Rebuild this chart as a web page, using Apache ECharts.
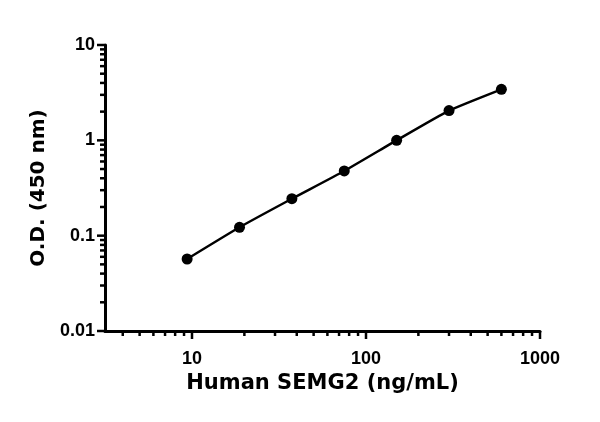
<!DOCTYPE html>
<html>
<head>
<meta charset="utf-8">
<script src="https://cdn.jsdelivr.net/npm/echarts@6/dist/echarts.min.js"></script>
<style>
  html, body { margin: 0; padding: 0; background: #fff; }
  #chart { width: 600px; height: 422px; }
</style>
</head>
<body>
<div id="chart"></div>
<script>
// 标准曲线数据
var concentrations = [9.375, 18.75, 37.5, 75, 150, 300, 600];
var odValues = [0.0569, 0.1225, 0.244, 0.477, 1.0, 2.05, 3.43];

// 刻度 (log 轴)
var xMin = Math.pow(10, 0.5);
var xMax = 1000;
var yMin = 0.01;
var yMax = 10;
var xMajorTicks = [10, 100, 1000];
var xMinorTicks = [4, 5, 6, 7, 8, 9, 20, 30, 40, 50, 60, 70, 80, 90, 200, 300, 400, 500, 600, 700, 800, 900];
var yMajorTicks = [0.01, 0.1, 1, 10];
var yMinorTicks = [0.02, 0.03, 0.04, 0.05, 0.06, 0.07, 0.08, 0.09, 0.2, 0.3, 0.4, 0.5, 0.6, 0.7, 0.8, 0.9, 2, 3, 4, 5, 6, 7, 8, 9];

var tickFont = 'Liberation Sans';
var titleFont = 'DejaVu Sans';

// 刻度线交给 custom series 画: [x, y, 方向(0=x轴,1=y轴), 长度]
var tickData = [];
xMajorTicks.forEach(function (v) { tickData.push([v, yMin, 0, 8]); });
xMinorTicks.forEach(function (v) { tickData.push([v, yMin, 0, 5]); });
yMajorTicks.forEach(function (v) { tickData.push([xMin, v, 1, 8]); });
yMinorTicks.forEach(function (v) { tickData.push([xMin, v, 1, 5]); });

function powerOfTen(v) {
    var l = Math.log(v) / Math.LN10;
    return Math.abs(l - Math.round(l)) < 1e-6;
}

var chart = echarts.init(document.getElementById('chart'));
var option = {
    animation: false,
    backgroundColor: '#fff',
    grid: {
        left: 105,
        right: 60,
        top: 45,
        bottom: 91
    },
    xAxis: {
        type: 'log',
        logBase: 10,
        min: xMin,
        max: xMax,
        name: 'Human SEMG2 (ng/mL)',
        nameLocation: 'middle',
        nameGap: 37,
        nameTextStyle: {
            fontFamily: titleFont,
            fontWeight: 'bold',
            fontSize: 21,
            color: '#000'
        },
        axisLine: {
            lineStyle: { color: '#000', width: 3 }
        },
        axisTick: { show: false },
        splitLine: { show: false },
        axisLabel: {
            margin: 19,
            fontFamily: tickFont,
            fontWeight: 'bold',
            fontSize: 18,
            color: '#000',
            formatter: function (v) { return powerOfTen(v) ? String(Math.round(v)) : ''; }
        }
    },
    yAxis: {
        type: 'log',
        logBase: 10,
        min: yMin,
        max: yMax,
        name: 'O.D. (450 nm)',
        nameLocation: 'middle',
        nameGap: 56,
        nameTextStyle: {
            fontFamily: titleFont,
            fontWeight: 'bold',
            fontSize: 20,
            color: '#000'
        },
        axisLine: {
            lineStyle: { color: '#000', width: 3 }
        },
        axisTick: { show: false },
        splitLine: { show: false },
        axisLabel: {
            margin: 10,
            fontFamily: tickFont,
            fontWeight: 'bold',
            fontSize: 18,
            color: '#000',
            formatter: function (v) { return powerOfTen(v) ? String(+v.toPrecision(3)) : ''; }
        }
    },
    series: [
        {
            type: 'custom',
            silent: true,
            clip: false,
            data: tickData,
            renderItem: function (params, api) {
                var p = api.coord([api.value(0), api.value(1)]);
                var len = api.value(3);
                var shape = api.value(2) === 0
                    ? { x1: p[0], y1: p[1], x2: p[0], y2: p[1] + len }
                    : { x1: p[0], y1: p[1], x2: p[0] - len, y2: p[1] };
                return {
                    type: 'line',
                    shape: shape,
                    style: { stroke: '#000', lineWidth: 2.5 }
                };
            }
        },
        {
            type: 'line',
            data: concentrations.map(function (c, i) { return [c, odValues[i]]; }),
            smooth: 0.15,
            symbol: 'circle',
            symbolSize: 11,
            itemStyle: { color: '#000' },
            lineStyle: { color: '#000', width: 2.5 },
            z: 3
        }
    ]
};
chart.setOption(option);
</script>
</body>
</html>
